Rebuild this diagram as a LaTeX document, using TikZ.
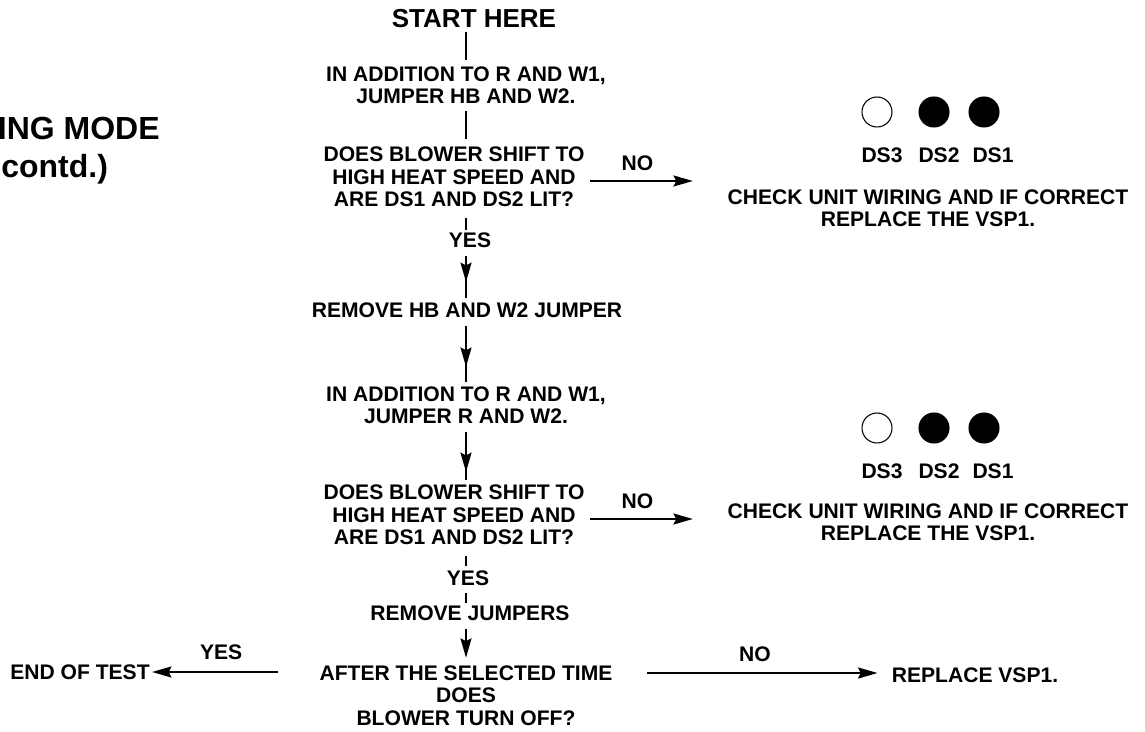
\documentclass[tikz,border=0pt]{standalone}
\usepackage{fontspec}
\setmainfont{Liberation Sans}
\usetikzlibrary{
arrows.meta,
positioning,
calc,
decorations.markings
}
\newcommand{\fcbody}{\fontsize{12}{12.8}\selectfont\bfseries}
\newcommand{\fcstart}{\fontsize{14.8}{16}\selectfont\bfseries}
\newcommand{\fctitle}{\fontsize{18.2}{21.6}\selectfont\bfseries}

\begin{document}
\begin{tikzpicture}[
  x=0.02cm, y=-0.02cm,
  txt/.style={font=\fcbody, align=center, inner sep=0pt, text depth=0pt},
  conn/.style={line width=1.35pt, shorten <=0.16cm, shorten >=0.09cm},
  tip/.style={-{Stealth[length=11pt, width=6.2pt, inset=1.5pt]}},
  midtip/.style={postaction={decorate}, decoration={markings,
      mark=at position #1 with {\arrow{Stealth[length=11pt, width=6.2pt, inset=1.5pt]}}}},
  led/.style={circle, draw, line width=0.6pt, minimum size=0.6cm, inner sep=0pt},
  ledon/.style={led, fill=black}
]
\useasboundingbox (0,0) rectangle (1145,732);

%% Title (cut at the left edge)
\node[txt, font=\fctitle, anchor=east] (title) at (160,128) {ING MODE};
\node[txt, font=\fctitle, anchor=west] (contd) at (1,166) {contd.)};

%% Main column
\node[txt, font=\fcstart] (start) at (474,18) {START HERE};
\node[txt] (addhb) at (466,85) {IN ADDITION TO R AND W1,\\JUMPER HB AND W2.};
\node[txt] (dec1) at (454,177)
  {DOES BLOWER SHIFT TO\\HIGH HEAT SPEED AND\\ARE DS1 AND DS2 LIT?};
\node[txt] (yes1) at (470,240) {YES};
\node[txt] (remhb) at (467,310) {REMOVE HB AND W2 JUMPER};
\node[txt] (addr) at (466,405) {IN ADDITION TO R AND W1,\\JUMPER R AND W2.};
\node[txt] (dec2) at (454,515)
  {DOES BLOWER SHIFT TO\\HIGH HEAT SPEED AND\\ARE DS1 AND DS2 LIT?};
\node[txt] (yes2) at (468,578) {YES};
\node[txt] (remj) at (470,613) {REMOVE JUMPERS};
\node[txt] (after) at (466,695.5) {AFTER THE SELECTED TIME\\DOES\\BLOWER TURN OFF?};

%% Outcomes
\node[txt] (endtest) at (80,672) {END OF TEST};
\node[txt] (repl) at (975,675) {REPLACE VSP1.};
\node[txt] (chk1) at (928,208) {CHECK UNIT WIRING AND IF CORRECT\\REPLACE THE VSP1.};
\node[txt] (chk2) at (928,522) {CHECK UNIT WIRING AND IF CORRECT\\REPLACE THE VSP1.};

%% Indicator lights
\foreach \r/\cy in {1/112, 2/428} {
  \node[led] (dsc3\r) at (877,\cy) {};
  \node[ledon] (dsc2\r) at (934,\cy) {};
  \node[ledon] (dsc1\r) at (984,\cy) {};
  \node[txt] (dsl3\r) at (882,\cy+43) {DS3};
  \node[txt] (dsl2\r) at (939,\cy+43) {DS2};
  \node[txt] (dsl1\r) at (993,\cy+43) {DS1};
}

%% Trunk
\coordinate (trunk) at (466,0);
\draw[conn, shorten <=0.09cm, shorten >=0.12cm] (start.south -| trunk) -- (addhb.north -| trunk);
\draw[conn, shorten <=0.14cm, shorten >=0.16cm] (addhb.south -| trunk) -- (dec1.north -| trunk);
\draw[conn, shorten <=0.22cm, shorten >=0.05cm] (dec1.south -| trunk) -- (yes1.north -| trunk);
\draw[conn, midtip=0.63] (yes1.south -| trunk) -- (remhb.north -| trunk);
\draw[conn, midtip=0.72] (remhb.south -| trunk) -- (addr.north -| trunk);
\draw[conn, midtip=0.79] (addr.south -| trunk) -- (dec2.north -| trunk);
\draw[conn, shorten <=0.22cm] (dec2.south -| trunk) -- (yes2.north -| trunk);
\draw[conn, shorten <=0.15cm, shorten >=0.05cm] (yes2.south -| trunk) -- (remj.north -| trunk);
\draw[conn, tip, shorten >=0.15cm] (remj.south -| trunk) -- (after.north -| trunk);

%% Branches
\draw[conn, tip, shorten <=0.11cm, shorten >=0.69cm]
  ([yshift=-0.08cm]dec1.east) -- node[txt, above=0.19cm, pos=0.37] (no1) {NO}
  ([yshift=-0.08cm]dec1.east -| chk1.west);
\draw[conn, tip, shorten <=0.11cm, shorten >=0.69cm]
  ([yshift=-0.08cm]dec2.east) -- node[txt, above=0.19cm, pos=0.37] (no2) {NO}
  ([yshift=-0.08cm]dec2.east -| chk2.west);
\draw[conn, tip, shorten <=0.83cm, shorten >=0.04cm]
  (after.west |- endtest.east) -- node[txt, above=0.23cm, pos=0.58] (yes3) {YES}
  (endtest.east);
\draw[conn, tip, shorten <=0.69cm, shorten >=0.28cm]
  ([yshift=0.04cm]after.east |- repl.west) -- node[txt, above=0.21cm, pos=0.51] (no3) {NO}
  ([yshift=0.04cm]repl.west);

\end{tikzpicture}
\end{document}
